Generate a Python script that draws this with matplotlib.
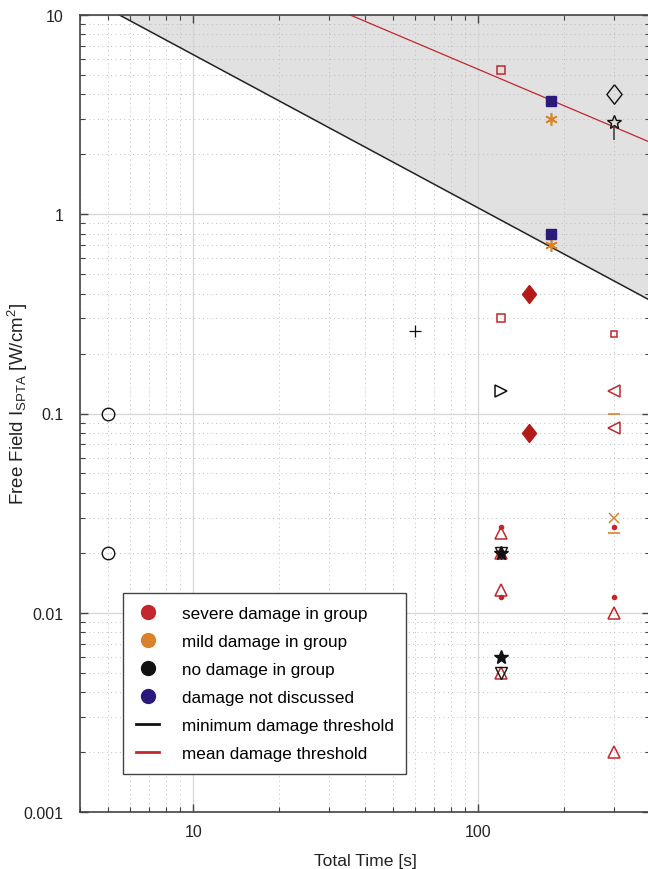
import matplotlib
matplotlib.use('Agg')
import matplotlib.pyplot as plt
from matplotlib.lines import Line2D
from matplotlib.ticker import LogLocator, NullFormatter, FixedLocator, FixedFormatter

plt.rcParams['font.family'] = ['Liberation Sans', 'DejaVu Sans']
plt.rcParams['mathtext.default'] = 'regular'

# colours
RED = '#c1272d'
DARKRED = '#b31b1b'
ORANGE = '#d9822b'
BLACK = '#111111'
INDIGO = '#2b1a7a'

# diamond a bit wider than matplotlib's thin diamond
DIAMOND = [(0, 1), (0.78, 0), (0, -1), (-0.78, 0), (0, 1)]

# threshold lines (end points)
min_t = [5.5, 400]
min_I = [10, 0.37]
mean_t = [35.5, 400]
mean_I = [10, 2.3]

# severe damage in group
severe_sq_t = [120, 120, 300]
severe_sq_I = [5.3, 0.30, 0.25]
severe_dia_t = [150, 150]
severe_dia_I = [0.40, 0.08]
severe_tl_t = [300, 300]
severe_tl_I = [0.13, 0.085]
severe_tu_t = [120, 120, 120, 120, 300, 300]
severe_tu_I = [0.025, 0.02, 0.013, 0.005, 0.01, 0.002]
severe_dot_t = [120, 120, 300, 300]
severe_dot_I = [0.027, 0.012, 0.027, 0.012]

# mild damage in group
mild_ast_t = [180, 180]
mild_ast_I = [3.0, 0.70]
mild_x_t = [300]
mild_x_I = [0.03]
mild_bar_t = [300, 300]
mild_bar_I = [0.10, 0.025]

# no damage in group
none_circ_t = [5, 5]
none_circ_I = [0.1, 0.02]
none_plus_t = [60]
none_plus_I = [0.26]
none_tr_t = [120]
none_tr_I = [0.13]
none_dia_t = [300]
none_dia_I = [4.0]
none_ostar_t = [300]
none_ostar_I = [2.9]
none_vbar_t = [300]
none_vbar_I = [2.55]
none_star_t = [120, 120]
none_star_I = [0.02, 0.006]
none_td_t = [120, 120]
none_td_I = [0.02, 0.005]

# damage not discussed
nd_sq_t = [180, 180]
nd_sq_I = [3.7, 0.80]

legend_labels = ['severe damage in group', 'mild damage in group', 'no damage in group',
                 'damage not discussed', 'minimum damage threshold', 'mean damage threshold']

fig = plt.figure(figsize=(6.48, 8.70), dpi=100)
ax = fig.add_axes([80 / 648, 57 / 870, 570 / 648, 797 / 870])
ax.set_xscale('log')
ax.set_yscale('log')
ax.set_xlim(4, 400)
ax.set_ylim(0.001, 10)

# shaded region above the minimum threshold
ax.fill_between(min_t, min_I, 10, color='#e1e1e1', lw=0, zorder=0)

# grid
ax.grid(True, which='major', color='#d6d6d6', lw=0.9, ls='-', zorder=1)
ax.grid(True, which='minor', color='#bdbdbd', lw=0.7, ls=(0, (1, 3.5)), zorder=1)
ax.set_axisbelow(True)

ax.plot(min_t, min_I, color='#222222', lw=1.1, zorder=2)
ax.plot(mean_t, mean_I, color=RED, lw=0.9, zorder=2)

# severe
ax.plot(severe_sq_t[:2], severe_sq_I[:2], 's', ms=6, mfc='none', mec=RED, mew=1.1, zorder=3)
ax.plot(severe_sq_t[2:], severe_sq_I[2:], 's', ms=5, mfc='none', mec=RED, mew=1.1, zorder=3)
ax.plot(severe_dia_t, severe_dia_I, ls='none', marker=DIAMOND, ms=13, mfc=DARKRED, mec=DARKRED, zorder=3)
ax.plot(severe_tl_t, severe_tl_I, '<', ms=9, mfc='none', mec=RED, mew=1.1, zorder=3)
ax.plot(severe_tu_t, severe_tu_I, '^', ms=9, mfc='none', mec=RED, mew=1.1, zorder=3)
ax.plot(severe_dot_t, severe_dot_I, 'o', ms=3, mfc=RED, mec=RED, zorder=3)

# mild
ax.plot(mild_ast_t, mild_ast_I, marker=(6, 2, 0), ls='none', ms=9, mec=ORANGE, mew=1.2, zorder=3)
ax.plot(mild_x_t, mild_x_I, 'x', ms=7, mec=ORANGE, mew=1.1, zorder=3)
ax.plot(mild_bar_t, mild_bar_I, '_', ms=9, mec=ORANGE, mew=1.2, zorder=3)

# none
ax.plot(none_circ_t, none_circ_I, 'o', ms=9, mfc='none', mec=BLACK, mew=1.0, zorder=3)
ax.plot(none_plus_t, none_plus_I, '+', ms=8, mec=BLACK, mew=0.9, zorder=3)
ax.plot(none_tr_t, none_tr_I, '>', ms=9, mfc='none', mec=BLACK, mew=1.1, zorder=3)
ax.plot(none_dia_t, none_dia_I, ls='none', marker=DIAMOND, ms=14, mfc='none', mec=BLACK, mew=1.0, zorder=3)
ax.plot(none_ostar_t, none_ostar_I, '*', ms=10, mfc='none', mec=BLACK, mew=1.0, zorder=3)
ax.plot(none_vbar_t, none_vbar_I, '|', ms=10, mec='#444444', mew=1.2, zorder=3)
ax.plot(none_td_t, none_td_I, 'v', ms=9, mfc='none', mec=BLACK, mew=1.0, zorder=3)
ax.plot(none_star_t, none_star_I, '*', ms=10, mfc=BLACK, mec=BLACK, zorder=4)

# not discussed
ax.plot(nd_sq_t, nd_sq_I, 's', ms=6.5, mfc=INDIGO, mec=INDIGO, zorder=3)

# ticks
ax.xaxis.set_major_locator(FixedLocator([10, 100]))
ax.xaxis.set_major_formatter(FixedFormatter(['10', '100']))
ax.xaxis.set_minor_locator(LogLocator(base=10, subs=range(2, 10)))
ax.xaxis.set_minor_formatter(NullFormatter())
ax.yaxis.set_major_locator(FixedLocator([0.001, 0.01, 0.1, 1, 10]))
ax.yaxis.set_major_formatter(FixedFormatter(['0.001', '0.01', '0.1', '1', '10']))
ax.yaxis.set_minor_locator(LogLocator(base=10, subs=range(2, 10)))
ax.yaxis.set_minor_formatter(NullFormatter())
ax.tick_params(which='both', direction='in', top=True, right=True, colors='#444444',
               labelcolor='#222222', labelsize=11.5)
ax.tick_params(which='major', length=6, width=1.0)
ax.tick_params(which='minor', length=3.5, width=0.8)
ax.tick_params(axis='x', which='major', pad=9)
ax.tick_params(axis='y', which='major', pad=12)
for s in ax.spines.values():
    s.set_color('#444444')
    s.set_linewidth(1.2)

ax.set_xlabel('Total Time [s]', fontsize=12.6, color='#222222', labelpad=10)
ax.set_ylabel(r'Free Field I$_{SPTA}$ [W/cm$^2$]', fontsize=13.5, color='#222222')
ax.yaxis.set_label_coords(-0.088, 0.513)

handles = [
    Line2D([], [], ls='none', marker='o', ms=10, mfc=RED, mec=RED),
    Line2D([], [], ls='none', marker='o', ms=10, mfc=ORANGE, mec=ORANGE),
    Line2D([], [], ls='none', marker='o', ms=10, mfc=BLACK, mec=BLACK),
    Line2D([], [], ls='none', marker='o', ms=10, mfc=INDIGO, mec=INDIGO),
    Line2D([], [], color=BLACK, lw=2),
    Line2D([], [], color=RED, lw=2),
]
leg = ax.legend(handles, legend_labels, loc='lower left', bbox_to_anchor=(0.075, 0.048),
                fontsize=12.3, frameon=True, fancybox=False, framealpha=1,
                edgecolor='#444444', handlelength=1.4, handletextpad=1.3,
                labelspacing=0.76, borderpad=0.75, borderaxespad=0)
leg.get_frame().set_linewidth(1.0)
leg.set_zorder(5)

fig.savefig('out.png', dpi=100)
